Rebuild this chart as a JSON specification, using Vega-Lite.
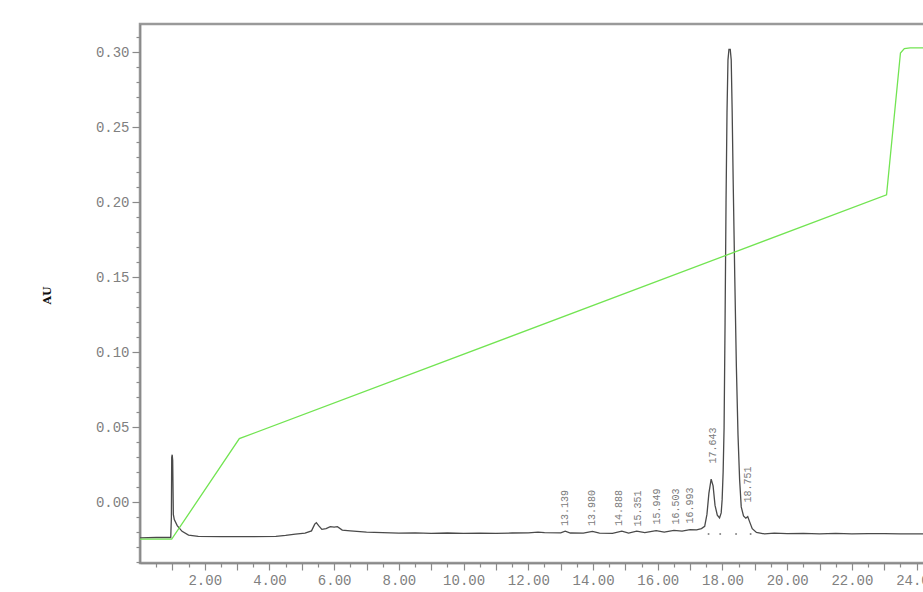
{
  "$schema": "https://vega.github.io/schema/vega-lite/v6.json",
  "width": 790,
  "height": 539,
  "autosize": {"type": "none"},
  "padding": {"left": 140, "top": 24, "right": -7, "bottom": 29},
  "background": "white",
  "config": {"view": {"stroke": "#9a9a9a", "strokeWidth": 2.5}},
  "datasets": {
    "signal": [
      {"t": 0.0, "v": -0.0236}, {"t": 0.5, "v": -0.0234}, {"t": 0.95, "v": -0.0234},
      {"t": 0.97, "v": -0.01}, {"t": 0.98, "v": 0.03}, {"t": 0.995, "v": 0.0318},
      {"t": 1.01, "v": 0.028}, {"t": 1.03, "v": -0.008}, {"t": 1.06, "v": -0.0115},
      {"t": 1.15, "v": -0.0155}, {"t": 1.3, "v": -0.0193}, {"t": 1.5, "v": -0.0218},
      {"t": 1.8, "v": -0.0226}, {"t": 2.5, "v": -0.0228}, {"t": 3.5, "v": -0.0228},
      {"t": 4.2, "v": -0.0226}, {"t": 4.5, "v": -0.022}, {"t": 4.8, "v": -0.0212},
      {"t": 5.1, "v": -0.0205}, {"t": 5.3, "v": -0.019}, {"t": 5.4, "v": -0.0145},
      {"t": 5.45, "v": -0.0135}, {"t": 5.52, "v": -0.0155}, {"t": 5.62, "v": -0.018},
      {"t": 5.75, "v": -0.0175}, {"t": 5.88, "v": -0.0162}, {"t": 6.0, "v": -0.0165},
      {"t": 6.1, "v": -0.0162}, {"t": 6.25, "v": -0.0185}, {"t": 6.5, "v": -0.019},
      {"t": 7.0, "v": -0.0198}, {"t": 7.5, "v": -0.0202}, {"t": 8.0, "v": -0.0205},
      {"t": 8.5, "v": -0.0203}, {"t": 9.0, "v": -0.0206}, {"t": 9.5, "v": -0.0204},
      {"t": 10.0, "v": -0.0207}, {"t": 10.5, "v": -0.0205}, {"t": 11.0, "v": -0.0206},
      {"t": 11.5, "v": -0.0204}, {"t": 12.0, "v": -0.0203}, {"t": 12.3, "v": -0.0198},
      {"t": 12.5, "v": -0.0202}, {"t": 13.0, "v": -0.0203}, {"t": 13.14, "v": -0.0192},
      {"t": 13.3, "v": -0.0204}, {"t": 13.7, "v": -0.0205}, {"t": 13.98, "v": -0.0193},
      {"t": 14.2, "v": -0.0205}, {"t": 14.6, "v": -0.0206}, {"t": 14.89, "v": -0.0192},
      {"t": 15.1, "v": -0.0205}, {"t": 15.35, "v": -0.0192}, {"t": 15.6, "v": -0.0202},
      {"t": 15.95, "v": -0.0188}, {"t": 16.2, "v": -0.0198}, {"t": 16.5, "v": -0.0186},
      {"t": 16.75, "v": -0.0192}, {"t": 17.0, "v": -0.0182}, {"t": 17.2, "v": -0.0183},
      {"t": 17.35, "v": -0.0175}, {"t": 17.45, "v": -0.016}, {"t": 17.52, "v": -0.008},
      {"t": 17.58, "v": 0.006}, {"t": 17.65, "v": 0.0155}, {"t": 17.71, "v": 0.011},
      {"t": 17.77, "v": -0.002}, {"t": 17.84, "v": -0.0085}, {"t": 17.91, "v": -0.0104},
      {"t": 17.96, "v": -0.007}, {"t": 17.99, "v": 0.002}, {"t": 18.02, "v": 0.02},
      {"t": 18.05, "v": 0.05}, {"t": 18.08, "v": 0.12}, {"t": 18.11, "v": 0.2},
      {"t": 18.14, "v": 0.26}, {"t": 18.17, "v": 0.295}, {"t": 18.2, "v": 0.302},
      {"t": 18.24, "v": 0.302}, {"t": 18.27, "v": 0.295}, {"t": 18.3, "v": 0.26},
      {"t": 18.33, "v": 0.215}, {"t": 18.38, "v": 0.15}, {"t": 18.43, "v": 0.09},
      {"t": 18.48, "v": 0.045}, {"t": 18.53, "v": 0.015}, {"t": 18.58, "v": -0.003},
      {"t": 18.65, "v": -0.009}, {"t": 18.72, "v": -0.0105}, {"t": 18.78, "v": -0.0095},
      {"t": 18.84, "v": -0.013}, {"t": 18.92, "v": -0.0175}, {"t": 19.05, "v": -0.02},
      {"t": 19.3, "v": -0.021}, {"t": 19.6, "v": -0.0205}, {"t": 20.0, "v": -0.0208},
      {"t": 20.5, "v": -0.0206}, {"t": 21.0, "v": -0.021}, {"t": 21.5, "v": -0.0207},
      {"t": 22.0, "v": -0.021}, {"t": 22.5, "v": -0.0208}, {"t": 23.0, "v": -0.0208},
      {"t": 23.5, "v": -0.021}, {"t": 24.5, "v": -0.021}
    ],
    "gradient": [
      {"t": 0.0, "v": -0.0245}, {"t": 0.98, "v": -0.0245}, {"t": 3.07, "v": 0.0425},
      {"t": 23.07, "v": 0.205}, {"t": 23.5, "v": 0.2996}, {"t": 23.62, "v": 0.3025},
      {"t": 23.8, "v": 0.303}, {"t": 24.5, "v": 0.303}
    ],
    "peaks": [
      {"t": 13.139, "v": -0.0178, "label": "13.139"},
      {"t": 13.98, "v": -0.0178, "label": "13.980"},
      {"t": 14.8, "v": -0.0178, "label": "14.888"},
      {"t": 15.4, "v": -0.018, "label": "15.351"},
      {"t": 15.98, "v": -0.0168, "label": "15.949"},
      {"t": 16.56, "v": -0.0168, "label": "16.503"},
      {"t": 16.993, "v": -0.016, "label": "16.993"},
      {"t": 17.7, "v": 0.024, "label": "17.643"},
      {"t": 18.79, "v": -0.002, "label": "18.751"}
    ],
    "marks": [
      {"t": 17.57, "v": -0.021}, {"t": 17.93, "v": -0.021},
      {"t": 18.42, "v": -0.021}, {"t": 18.87, "v": -0.021}
    ]
  },
  "encoding": {
    "x": {
      "field": "t", "type": "quantitative",
      "scale": {"domain": [0, 24.413], "nice": false, "zero": false},
      "axis": {
        "title": null,
        "values": [0.5,1,1.5,2,2.5,3,3.5,4,4.5,5,5.5,6,6.5,7,7.5,8,8.5,9,9.5,10,10.5,11,11.5,12,12.5,13,13.5,14,14.5,15,15.5,16,16.5,17,17.5,18,18.5,19,19.5,20,20.5,21,21.5,22,22.5,23,23.5,24],
        "labelExpr": "datum.value % 2 == 0 ? format(datum.value, '.2f') : ''",
        "labelFont": "Liberation Mono", "labelFontSize": 14, "labelColor": "#808080",
        "labelFlush": false, "labelOverlap": false, "labelPadding": 3,
        "domainColor": "#8a8a8a", "domainWidth": 1.5,
        "tickColor": "#8a8a8a", "tickWidth": 1.2,
        "tickSize": {"condition": {"test": "datum.value % 1 == 0", "value": 7}, "value": 4},
        "grid": false
      }
    },
    "y": {
      "field": "v", "type": "quantitative",
      "scale": {"domain": [-0.0404, 0.3189], "nice": false, "zero": false},
      "axis": {
        "title": "AU",
        "titleFont": "DejaVu Serif", "titleFontSize": 11, "titleFontWeight": "bold", "titleColor": "#111",
        "titleX": -88, "titleY": 271,
        "values": [-0.04,-0.03,-0.02,-0.01,0,0.01,0.02,0.03,0.04,0.05,0.06,0.07,0.08,0.09,0.1,0.11,0.12,0.13,0.14,0.15,0.16,0.17,0.18,0.19,0.2,0.21,0.22,0.23,0.24,0.25,0.26,0.27,0.28,0.29,0.3,0.31],
        "labelExpr": "abs(round(datum.value*100)) % 5 == 0 ? format(datum.value, '.2f') : ''",
        "labelFont": "Liberation Mono", "labelFontSize": 14, "labelColor": "#808080",
        "labelFlush": false, "labelOverlap": false, "labelPadding": 3,
        "domainColor": "#8a8a8a", "domainWidth": 1.5,
        "tickColor": "#8a8a8a", "tickWidth": 1.2,
        "tickSize": {"condition": {"test": "abs(round(datum.value*100)) % 5 == 0", "value": 8}, "value": 4},
        "grid": false
      }
    }
  },
  "layer": [
    {
      "data": {"name": "signal"},
      "mark": {"type": "line", "color": "#4a4a4a", "strokeWidth": 1.3, "clip": true}
    },
    {
      "data": {"name": "gradient"},
      "mark": {"type": "line", "color": "#72e452", "strokeWidth": 1.3, "clip": true}
    },
    {
      "data": {"name": "marks"},
      "mark": {"type": "point", "filled": true, "size": 4, "color": "#666", "opacity": 0.8}
    },
    {
      "data": {"name": "peaks"},
      "mark": {"type": "text", "angle": 270, "align": "left", "baseline": "middle", "dx": 3, "font": "Liberation Mono", "fontSize": 10, "color": "#7a7a7a"},
      "encoding": {
        "text": {"field": "label"}
      }
    }
  ]
}
